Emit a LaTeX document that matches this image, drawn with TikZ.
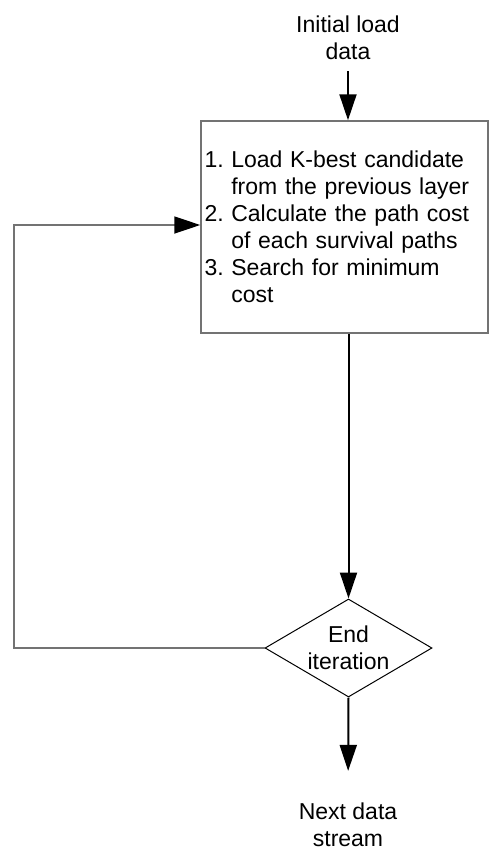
\documentclass[tikz,border=0pt]{standalone}
\usepackage{fontspec}
\setmainfont{Liberation Sans}
\usetikzlibrary{shapes.geometric,arrows.meta}
\begin{document}
\frenchspacing
\begin{tikzpicture}[x=1pt,y=-1pt,
  every node/.style={font=\fontsize{23}{27}\selectfont},
  tip/.style={-{Triangle[length=26pt,width=17pt,fill=black,color=black]}},
  arr/.style={draw=black,line width=2pt,tip},
  looparr/.style={draw=black!55,line width=1.8pt,tip},
  label/.style={align=center,inner sep=0pt},
  stepbox/.style={draw=black!55,line width=1.5pt,text width=280pt,inner xsep=3.5pt,
    minimum height=212pt,align=left},
  decision/.style={diamond,draw=black,line width=1pt,aspect=1.7,inner sep=0pt,
    minimum width=167pt,minimum height=98pt,align=center}]
  \useasboundingbox (0,0) rectangle (489,852);

  % start and end labels
  \node[label] (init) at (348,38) {Initial load\\data};
  \node[label] (next) at (348,825) {Next data\\stream};

  % processing step
  \node[stepbox] (box) at (344.5,227) {%
    1. Load K-best candidate\\
    \hphantom{1. }from the previous layer\\
    2. Calculate the path cost\\
    \hphantom{2. }of each survival paths\\
    3. Search for minimum\\
    \hphantom{3. }cost};

  % loop test
  \node[decision] (dia) at (348.5,648) {End\\iteration};

  % feedback corner
  \coordinate (lp) at (14,225);

  % connectors
  \draw[arr,shorten <=11pt] (init.south) -- (box.north -| init);
  \draw[arr] (box.south -| dia) -- (dia.north);
  \draw[arr,shorten >=32pt] (dia.south) -- (next.north);
  \draw[looparr] (dia.west) -| (lp) -- (lp -| box.west);
\end{tikzpicture}
\end{document}
